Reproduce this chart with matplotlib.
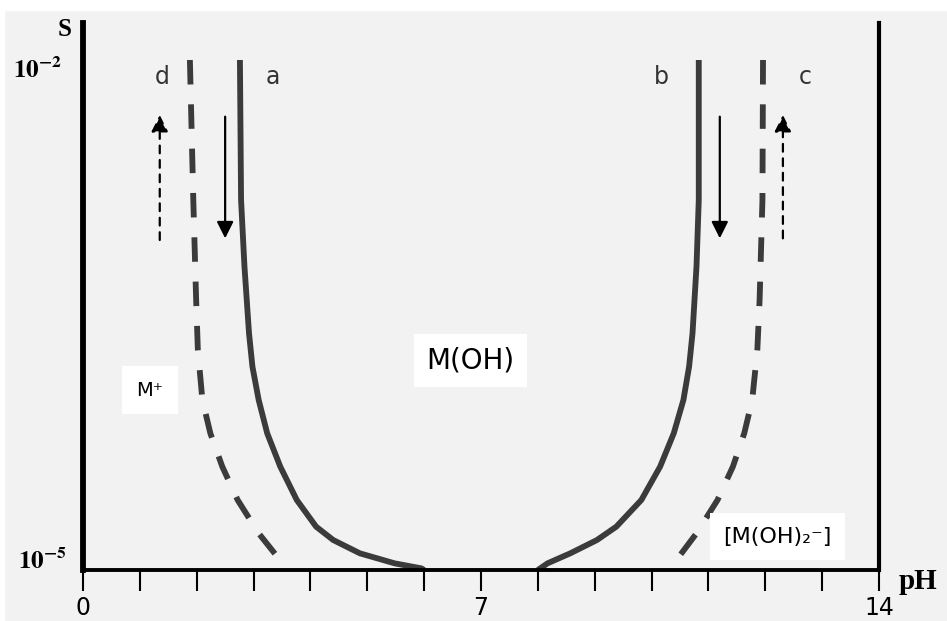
import numpy as np
import matplotlib
matplotlib.use("Agg")
import matplotlib.pyplot as plt

# données : pH et log10(S)
ph_a = [2.76, 2.78, 2.84, 2.92, 2.98, 3.09, 3.24, 3.47, 3.76, 4.10, 4.40, 4.87, 5.48, 5.95, 6.00]
log_a = [-1.94, -2.78, -3.18, -3.58, -3.78, -3.98, -4.18, -4.38, -4.58, -4.74, -4.82, -4.90, -4.96, -4.99, -5.00]

ph_d = [1.88, 1.94, 1.99, 2.02, 2.10, 2.24, 2.45, 2.72, 3.09, 3.44]
log_d = [-1.94, -2.78, -3.38, -3.68, -3.98, -4.18, -4.38, -4.58, -4.78, -4.93]

ph_b = [10.83, 10.83, 10.79, 10.72, 10.66, 10.56, 10.39, 10.15, 9.82, 9.38, 9.04, 8.57, 8.17, 8.00]
log_b = [-1.94, -2.78, -3.18, -3.58, -3.78, -3.98, -4.18, -4.38, -4.58, -4.74, -4.82, -4.90, -4.96, -5.00]

ph_c = [11.96, 11.95, 11.90, 11.86, 11.77, 11.63, 11.43, 11.16, 10.79, 10.46]
log_c = [-1.94, -2.78, -3.38, -3.68, -3.98, -4.18, -4.38, -4.58, -4.78, -4.93]

# flèches : (pH, log S départ, log S arrivée, pointillé ?)
arrows = [(1.35, -3.02, -2.27, True), (2.50, -2.28, -3.01, False),
          (11.20, -2.28, -3.01, False), (12.31, -3.01, -2.27, True)]
letters = ['d', 'a', 'b', 'c']
letter_ph = [1.39, 3.34, 10.18, 12.70]
letter_log = -2.04

species = ['M⁺', 'M(OH)', '[M(OH)₂⁻]']
species_ph = [1.18, 6.82, 12.22]
species_log = [-3.92, -3.74, -4.80]
species_size = [14, 20, 16]
species_pad = [0.75, 0.45, 0.6]

xtick_pos = list(range(15))
xtick_lab = ['0', '', '', '', '', '', '', '7', '', '', '', '', '', '', '14']

plt.rcParams['mathtext.fontset'] = 'stix'

fig = plt.figure(figsize=(9.47, 6.21), dpi=100, facecolor='#f2f2f2')
fig.add_artist(plt.Rectangle((0, 1 - 10 / 621), 1, 10 / 621, transform=fig.transFigure,
                             color='white', zorder=0))
fig.add_artist(plt.Rectangle((0, 0), 4 / 947, 1, transform=fig.transFigure,
                             color='white', zorder=0))
ax = fig.add_axes([83 / 947, 51 / 621, 796 / 947, 547 / 621])
ax.set_facecolor('none')
ax.set_yscale('log')
ax.set_xlim(0, 14)
ax.set_ylim(1e-5, 10 ** -1.718)

curve_col = '#3b3b3b'
ax.plot(ph_a, 10 ** np.array(log_a), color=curve_col, lw=4.2, solid_capstyle='butt',
        solid_joinstyle='round')
ax.plot(ph_b, 10 ** np.array(log_b), color=curve_col, lw=4.2, solid_capstyle='butt',
        solid_joinstyle='round')
ax.plot(ph_d, 10 ** np.array(log_d), color=curve_col, lw=4.2, ls=(0, (4.2, 3.4)))
ax.plot(ph_c, 10 ** np.array(log_c), color=curve_col, lw=4.2, ls=(0, (4.2, 3.4)))

for x, y0, y1, dashed in arrows:
    ax.annotate('', xy=(x, 10 ** y1), xytext=(x, 10 ** y0),
                arrowprops=dict(arrowstyle='-|>,head_length=0.5,head_width=0.25',
                                mutation_scale=20, color='black', lw=1.6,
                                ls=(0, (3.5, 3)) if dashed else '-',
                                shrinkA=0, shrinkB=0))

for t, x in zip(letters, letter_ph):
    ax.text(x, 10 ** letter_log, t, ha='center', va='center', fontsize=17, color='#333333')

for t, x, y, s, p in zip(species, species_ph, species_log, species_size, species_pad):
    ax.text(x, 10 ** y, t, ha='center', va='center', fontsize=s, color='black',
            bbox=dict(boxstyle='square,pad=%s' % p, fc='white', ec='none'))

# axes
for side in ['left', 'right', 'bottom']:
    ax.spines[side].set_color('black')
ax.spines['left'].set_linewidth(4.2)
ax.spines['right'].set_linewidth(3)
ax.spines['bottom'].set_linewidth(2.8)
ax.spines['top'].set_visible(False)

ax.set_xticks(xtick_pos, xtick_lab)
ax.tick_params(axis='x', direction='out', length=15, width=1.5, pad=4, labelsize=17)
ax.set_yticks([])
ax.yaxis.set_minor_locator(matplotlib.ticker.NullLocator())

ax.text(-0.8, 1e-2, r'$\mathbf{10^{-2}}$', ha='center', va='center', fontsize=18, clip_on=False)
ax.text(-0.72, 10 ** -4.95, r'$\mathbf{10^{-5}}$', ha='center', va='center', fontsize=18, clip_on=False)
ax.text(-0.32, 10 ** -1.76, 'S', ha='center', va='center', fontsize=18, fontweight='bold',
        family='Liberation Serif', clip_on=False)
ax.text(14.69, 10 ** -5.07, 'pH', ha='center', va='center', fontsize=21, fontweight='bold',
        family='Liberation Serif', clip_on=False)

fig.savefig('out.png', dpi=100, facecolor=fig.get_facecolor())
